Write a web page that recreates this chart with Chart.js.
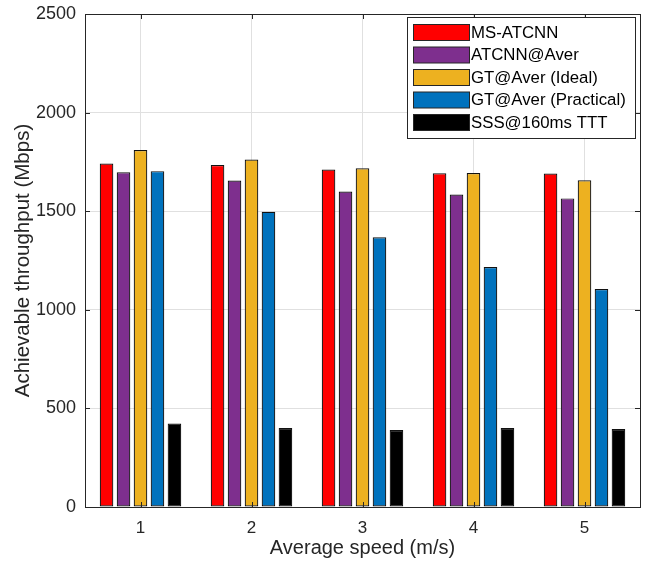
<!DOCTYPE html>
<html>
<head>
<meta charset="utf-8">
<script src="https://cdn.jsdelivr.net/npm/chart.js@4/dist/chart.umd.min.js"></script>
<style>
  html, body { margin: 0; padding: 0; background: #ffffff; }
  #wrap { width: 651px; height: 562px; }
</style>
</head>
<body>
<div id="wrap"><canvas id="c" width="651" height="562"></canvas></div>
<script>
// Average speed categories (m/s)
const speeds = ['1', '2', '3', '4', '5'];

// Achievable throughput (Mbps) per scheme
const msAtcnn       = [1742, 1734, 1711, 1692, 1691];
const atcnnAver     = [1697, 1656, 1600, 1585, 1565];
const gtAverIdeal   = [1810, 1762, 1718, 1694, 1657];
const gtAverPract   = [1703, 1497, 1368, 1217, 1105];
const sss160Ttt     = [423, 400, 390, 400, 395];

const seriesNames = ['MS-ATCNN', 'ATCNN@Aver', 'GT@Aver (Ideal)', 'GT@Aver (Practical)', 'SSS@160ms TTT'];
const seriesColors = ['#FF0000', '#7E2F8E', '#EDB120', '#0072BD', '#000000'];
const seriesValues = [msAtcnn, atcnnAver, gtAverIdeal, gtAverPract, sss160Ttt];

// y-axis tick values
const yTicks = [0, 500, 1000, 1500, 2000, 2500];

const FONT = '"Liberation Sans", Arial, Helvetica, sans-serif';
const AXIS_COLOR = '#262626';

// Axes box, inward tick marks and the in-plot legend
const boxPlugin = {
  id: 'boxPlugin',
  afterDatasetsDraw(chart) {
    const { ctx, chartArea: a, scales: { x, y } } = chart;
    const tl = 5;
    ctx.save();
    ctx.strokeStyle = AXIS_COLOR;
    ctx.lineWidth = 1;
    ctx.beginPath();
    yTicks.forEach(v => {
      const py = Math.round(y.getPixelForValue(v)) + 0.5;
      ctx.moveTo(a.left, py); ctx.lineTo(a.left + tl, py);
      ctx.moveTo(a.right, py); ctx.lineTo(a.right - tl, py);
    });
    speeds.forEach((s, i) => {
      const px = Math.round(x.getPixelForValue(i)) + 0.5;
      ctx.moveTo(px, a.bottom); ctx.lineTo(px, a.bottom - tl);
      ctx.moveTo(px, a.top); ctx.lineTo(px, a.top + tl);
    });
    ctx.stroke();
    ctx.strokeRect(Math.round(a.left) + 0.5, Math.round(a.top) + 0.5,
                   Math.round(a.right - a.left), Math.round(a.bottom - a.top));

    // legend
    const lx = 407.5, ly = 17.5, lw = 228, lh = 121;
    ctx.fillStyle = '#ffffff';
    ctx.fillRect(lx, ly, lw, lh);
    ctx.strokeRect(lx, ly, lw, lh);
    ctx.font = '16.8px ' + FONT;
    ctx.textBaseline = 'middle';
    ctx.textAlign = 'left';
    chart.data.datasets.forEach((ds, i) => {
      const sy = 24 + i * 22.5;
      ctx.fillStyle = ds.backgroundColor;
      ctx.fillRect(413.5, sy + 0.5, 56, 16);
      ctx.strokeStyle = '#262626';
      ctx.strokeRect(413.5, sy + 0.5, 56, 16);
      ctx.fillStyle = '#000000';
      ctx.fillText(ds.label, 471, sy + 9);
    });
    ctx.restore();
  }
};

new Chart(document.getElementById('c'), {
  type: 'bar',
  data: {
    labels: speeds,
    datasets: seriesNames.map((name, i) => ({
      label: name,
      data: seriesValues[i],
      backgroundColor: seriesColors[i],
      borderColor: '#111111',
      borderWidth: 1.2,
      borderSkipped: false,
      barPercentage: 0.8,
      categoryPercentage: 0.765
    }))
  },
  options: {
    responsive: false,
    devicePixelRatio: 1,
    animation: false,
    layout: { padding: { top: 14, right: 11, left: 0, bottom: 0 } },
    plugins: { legend: { display: false }, tooltip: { enabled: false } },
    scales: {
      x: {
        grid: { offset: false, color: '#e0e0e0', drawTicks: false },
        border: { display: false },
        ticks: { font: { family: FONT, size: 17 }, color: AXIS_COLOR, padding: 11 },
        title: { display: true, text: 'Average speed (m/s)', color: AXIS_COLOR,
                 font: { family: FONT, size: 20 }, padding: { top: 0, bottom: 2 } },
        afterFit(scale) { scale.height = 55; scale.paddingLeft = 0; scale.paddingRight = 0; }
      },
      y: {
        min: 0, max: 2500,
        afterBuildTicks(scale) { scale.ticks = yTicks.map(v => ({ value: v })); },
        grid: { color: '#e0e0e0', drawTicks: false },
        border: { display: false },
        ticks: { font: { family: FONT, size: 18 }, color: AXIS_COLOR, padding: 9,
                 callback: v => String(v) },
        title: { display: true, text: 'Achievable throughput (Mbps)', color: AXIS_COLOR,
                 font: { family: FONT, size: 20.5 }, padding: { top: 11, bottom: 0 } },
        afterFit(scale) { scale.width = 85; scale.paddingTop = 0; scale.paddingBottom = 0; }
      }
    }
  },
  plugins: [boxPlugin]
});
</script>
</body>
</html>
